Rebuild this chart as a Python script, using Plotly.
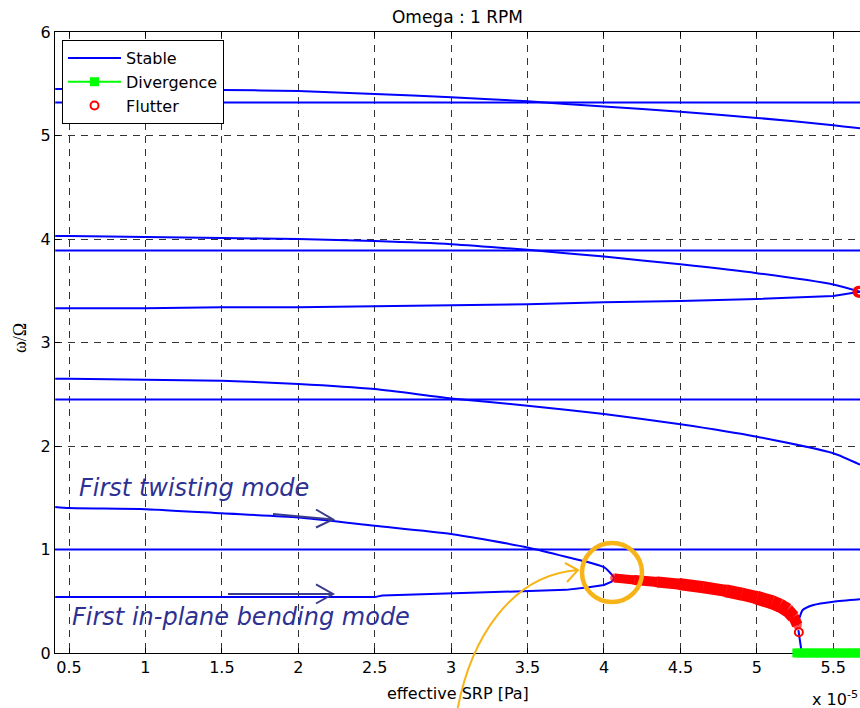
import plotly.graph_objects as go

# ---------------- data ----------------
X_EDGE = [0.41, 5.675]
X_MAIN = [0.41, 0.5, 1.0, 1.5, 2.0, 2.5, 3.0, 3.5, 4.0, 4.5, 5.0, 5.5, 5.675]

FLAT_532 = [5.32, 5.32]
CURVE_545 = [5.45, 5.45, 5.45, 5.44, 5.43, 5.40, 5.37, 5.33, 5.28, 5.23, 5.17, 5.10, 5.07]
FLAT_389 = [3.89, 3.89]
CURVE_403 = [4.03, 4.03, 4.02, 4.01, 4.00, 3.98, 3.95, 3.895, 3.83, 3.755, 3.67, 3.56, 3.49]
CURVE_333 = [3.33, 3.33, 3.33, 3.34, 3.34, 3.35, 3.36, 3.37, 3.39, 3.40, 3.42, 3.45, 3.49]
FLAT_245 = [2.45, 2.45]
CURVE_265 = [2.65, 2.65, 2.64, 2.63, 2.60, 2.55, 2.46, 2.39, 2.31, 2.21, 2.09, 1.93, 1.82]
FLAT_100 = [1.0, 1.0]

TWIST_X = [0.41, 0.5, 1.0, 1.5, 2.0, 2.5, 3.0, 3.5, 3.75, 4.0, 4.07]
TWIST_Y = [1.41, 1.40, 1.39, 1.35, 1.31, 1.23, 1.15, 1.02, 0.93, 0.83, 0.725]

BEND_X = [0.41, 0.5, 1.0, 1.5, 2.0, 2.5, 2.55, 3.0, 3.5, 3.75, 3.9, 4.0, 4.05, 4.07]
BEND_Y = [0.54, 0.54, 0.54, 0.54, 0.54, 0.54, 0.555, 0.575, 0.60, 0.61, 0.635, 0.657, 0.69, 0.72]

FLUT_X = [4.07, 4.2, 4.35, 4.5, 4.65, 4.8, 4.9, 5.0, 5.1, 5.15, 5.2, 5.24, 5.265]
FLUT_Y = [0.725, 0.705, 0.685, 0.664, 0.635, 0.60, 0.57, 0.535, 0.49, 0.46, 0.415, 0.35, 0.27]

FLUT_PT_X = [5.275]
FLUT_PT_Y = [0.20]
FLUT_HI_X = [5.665, 5.675]
FLUT_HI_Y = [3.49, 3.49]

POST_UP_X = [5.268, 5.278, 5.30, 5.37, 5.5, 5.675]
POST_UP_Y = [0.27, 0.335, 0.415, 0.464, 0.496, 0.519]
POST_DN_X = [5.272, 5.283, 5.294]
POST_DN_Y = [0.222, 0.126, 0.0]

DIV_X = [5.262, 5.29, 5.32, 5.35, 5.38, 5.41, 5.44, 5.47, 5.50, 5.53, 5.56, 5.59, 5.62, 5.65, 5.675]
DIV_Y = [0.0] * len(DIV_X)

X_TICKS = [0.5, 1, 1.5, 2, 2.5, 3, 3.5, 4, 4.5, 5, 5.5]
X_TICKTEXT = ["0.5", "1", "1.5", "2", "2.5", "3", "3.5", "4", "4.5", "5", "5.5"]
Y_TICKS = [0, 1, 2, 3, 4, 5, 6]

# ---------------- styles ----------------
BLUE = "#0000ff"
RED = "#ff0000"
GREEN = "#00ff00"
ORANGE = "#F7B418"
NAVY_TXT = "#2E3192"
NAVY_ARR = "#3C3C8C"
FONT = "DejaVu Sans"
FLUT_WIDTHS = [9, 10, 11, 12, 12, 13, 13, 14, 14, 14, 13, 11, 9]

W, H = 860, 708
L, R, T, B = 55, 860, 32, 653


def px(xp):
    return (xp - L) / (R - L)


def py(yp):
    return (B - yp) / (B - T)


fig = go.Figure()

stable = [
    (X_EDGE, FLAT_532, "spline"), (X_MAIN, CURVE_545, "spline"), (X_EDGE, FLAT_389, "linear"),
    (X_MAIN, CURVE_403, "spline"), (X_MAIN, CURVE_333, "linear"), (X_EDGE, FLAT_245, "linear"),
    (X_MAIN, CURVE_265, "spline"), (X_EDGE, FLAT_100, "linear"), (TWIST_X, TWIST_Y, "spline"),
    (BEND_X, BEND_Y, "linear"), (POST_UP_X, POST_UP_Y, "spline"), (POST_DN_X, POST_DN_Y, "linear"),
]
for i, (xs, ys, shp) in enumerate(stable):
    fig.add_trace(go.Scatter(
        x=xs, y=ys, mode="lines", name="Stable", legendgroup="stable",
        showlegend=(i == 0), legendrank=1,
        line=dict(color=BLUE, width=2, shape=shp, smoothing=0.6) if shp == "spline"
        else dict(color=BLUE, width=2),
        hoverinfo="skip"))

# flutter band, drawn in segments of growing width
for i in range(len(FLUT_X) - 1):
    fig.add_trace(go.Scatter(
        x=FLUT_X[i:i + 2], y=FLUT_Y[i:i + 2], mode="lines",
        line=dict(color=RED, width=FLUT_WIDTHS[i]),
        showlegend=False, hoverinfo="skip"))
fig.add_trace(go.Scatter(
    x=FLUT_X, y=FLUT_Y, mode="markers",
    marker=dict(color=RED, size=FLUT_WIDTHS, line=dict(width=0)),
    showlegend=False, hoverinfo="skip"))
fig.add_trace(go.Scatter(
    x=FLUT_HI_X, y=FLUT_HI_Y, mode="markers",
    marker=dict(symbol="circle-open", color=RED, size=9, line=dict(width=3, color=RED)),
    showlegend=False, hoverinfo="skip"))

# divergence
fig.add_trace(go.Scatter(
    x=DIV_X, y=DIV_Y, mode="lines+markers", name="Divergence", legendrank=2,
    line=dict(color=GREEN, width=2),
    marker=dict(symbol="square", color=GREEN, size=9),
    cliponaxis=False, hoverinfo="skip"))

# flutter point (legend entry)
fig.add_trace(go.Scatter(
    x=FLUT_PT_X, y=FLUT_PT_Y, mode="markers", name="Flutter", legendrank=3,
    marker=dict(symbol="circle-open", color=RED, size=8, line=dict(width=2, color=RED)),
    hoverinfo="skip"))

axis_common = dict(
    showgrid=True, gridcolor="#333333", gridwidth=1, griddash="7px,6px",
    showline=True, linecolor="black", linewidth=1,
    ticks="inside", ticklen=5, tickcolor="black", zeroline=False,
    tickfont=dict(family=FONT, size=16, color="black"),
    layer="below traces",
)

fig.update_layout(
    width=W, height=H, autosize=False,
    margin=dict(l=L, r=W - R, t=T, b=H - B, pad=0),
    paper_bgcolor="white", plot_bgcolor="white",
    font=dict(family=FONT, color="black"),
    title=dict(text="Omega : 1 RPM", x=0.5, xref="paper", xanchor="center",
               y=1 - 17.5 / H, yref="container", yanchor="middle",
               font=dict(family=FONT, size=17, color="black")),
    xaxis=dict(range=[0.4084, 5.675], tickvals=X_TICKS, ticktext=X_TICKTEXT,
               mirror="ticks", **axis_common),
    yaxis=dict(range=[0, 6], tickvals=Y_TICKS, mirror=False, **axis_common),
    legend=dict(x=px(62), y=py(40), xanchor="left", yanchor="top",
                bgcolor="white", bordercolor="black", borderwidth=1,
                font=dict(family=FONT, size=16, color="black"),
                itemwidth=53, tracegroupgap=0),
    showlegend=True,
)

annotations = [
    dict(text="effective SRP [Pa]", x=0.5, y=py(693), xref="paper", yref="paper",
         xanchor="center", yanchor="middle", showarrow=False,
         font=dict(family=FONT, size=16, color="black")),
    dict(text="x 10<sup>-5</sup>", x=1.0, y=py(698), xref="paper", yref="paper",
         xanchor="right", yanchor="middle", showarrow=False,
         font=dict(family=FONT, size=16, color="black")),
    dict(text="ω/Ω", x=px(20), y=py(338), xref="paper", yref="paper",
         xanchor="center", yanchor="middle", showarrow=False, textangle=-90,
         font=dict(family="Liberation Serif", size=18, color="black")),
    dict(text="<i>First twisting mode</i>", x=px(77), y=py(488), xref="paper", yref="paper",
         xanchor="left", yanchor="middle", showarrow=False,
         font=dict(family=FONT, size=24, color=NAVY_TXT)),
    dict(text="<i>First in-plane bending mode</i>", x=px(70), y=py(617), xref="paper", yref="paper",
         xanchor="left", yanchor="middle", showarrow=False,
         font=dict(family=FONT, size=24, color=NAVY_TXT)),
]
fig.update_layout(annotations=annotations)


def P(xp, yp):
    return f"{px(xp):.5f},{py(yp):.5f}"


shapes = [
    # twisting arrow
    dict(type="path", xref="paper", yref="paper",
         path=f"M{P(273, 514)} L{P(333, 519.5)} M{P(316, 509.5)} L{P(333, 519.5)} L{P(316, 527.5)}",
         line=dict(color=NAVY_ARR, width=2)),
    # bending arrow
    dict(type="path", xref="paper", yref="paper",
         path=f"M{P(228, 594)} L{P(333, 594)} M{P(316, 584.5)} L{P(333, 594)} L{P(316, 603.5)}",
         line=dict(color=NAVY_ARR, width=2)),
    # orange circle
    dict(type="circle", xref="paper", yref="paper",
         x0=px(612 - 30), x1=px(612 + 30), y0=py(572.5 + 29.5), y1=py(572.5 - 29.5),
         line=dict(color=ORANGE, width=4.5)),
    # orange curved arrow
    dict(type="path", xref="paper", yref="paper",
         path=f"M{P(457, 712)} C{P(470, 640)} {P(510, 575)} {P(578, 570)} "
              f"M{P(565, 563)} L{P(578, 570)} L{P(567, 582)}",
         line=dict(color=ORANGE, width=2)),
]
fig.update_layout(shapes=shapes)

fig.write_html("out.html", config={"displayModeBar": False},
               post_script="document.body.style.margin='0';")
